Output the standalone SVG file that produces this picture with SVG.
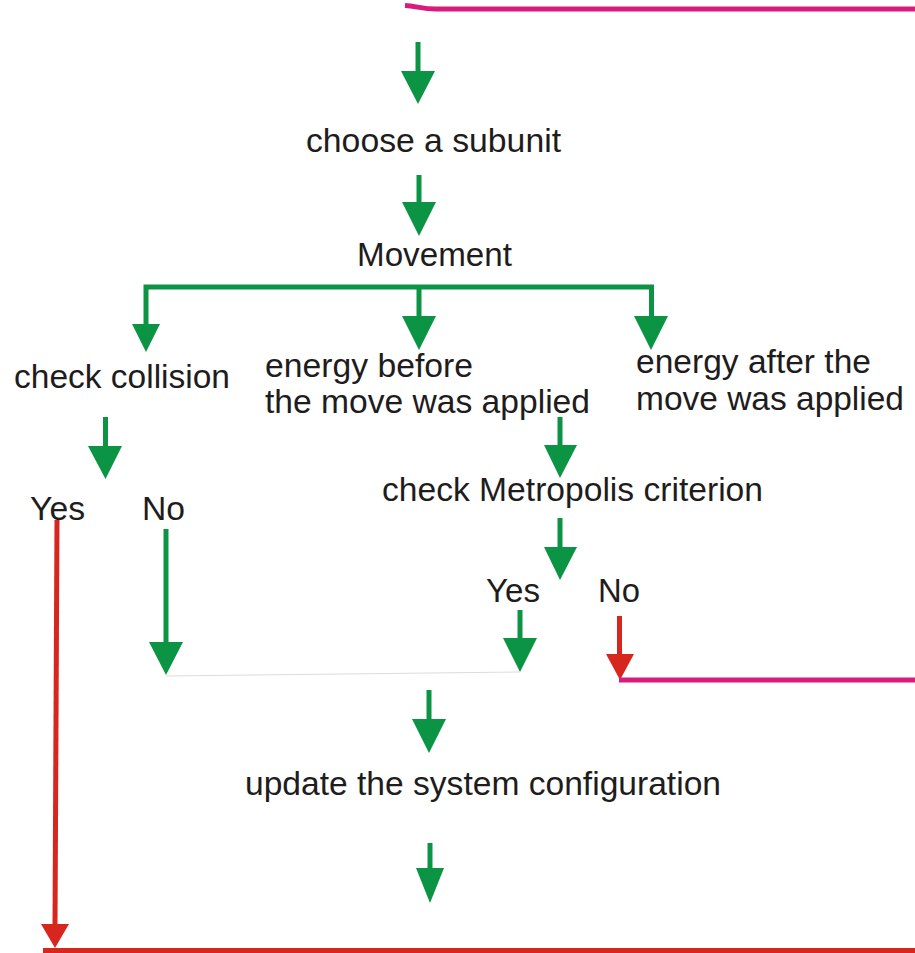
<svg xmlns="http://www.w3.org/2000/svg" width="915" height="953" viewBox="0 0 915 953">
<style>
  .t { font-family: "Liberation Sans", Arial, sans-serif; font-size: 33px; fill: #1e1c1c; }
  .gs { stroke: #0b9444; stroke-width: 5; fill: none; }
  .gh { fill: #0b9444; }
  .rs { stroke: #d7261e; stroke-width: 5; fill: none; }
  .rh { fill: #d7261e; }
  .ms { stroke: #d81b7c; stroke-width: 5; fill: none; }
</style>
<rect width="915" height="953" fill="#ffffff"/>
<g id="connectors">
  <path class="ms" d="M405,5.5 C416,6 422,9 436,9 H915" stroke-width="4.5"/>
  <line class="gs" x1="418" y1="42" x2="418" y2="72"/>
  <polygon class="gh" points="401,71 435,71 418,104"/>
  <line class="gs" x1="419" y1="175" x2="419" y2="203"/>
  <polygon class="gh" points="402,202 436,202 419,236"/>
  <path class="gs" d="M146,325 V287 H651.5 V318"/>
  <line class="gs" x1="419" y1="287" x2="419" y2="318"/>
  <polygon class="gh" points="132,324 160,324 146,352"/>
  <polygon class="gh" points="402,316 436,316 419,350"/>
  <polygon class="gh" points="634,316 668,316 651,350"/>
  <line class="gs" x1="105.5" y1="417" x2="105.5" y2="447"/>
  <polygon class="gh" points="88,446 122,446 105.5,479"/>
  <line class="gs" x1="166" y1="529" x2="166" y2="643"/>
  <polygon class="gh" points="149,642 183,642 166,675"/>
  <line class="gs" x1="560" y1="417" x2="560" y2="446"/>
  <polygon class="gh" points="544,445 577,445 560,478"/>
  <line class="gs" x1="560" y1="518" x2="560" y2="548"/>
  <polygon class="gh" points="544,547 577,547 560,580"/>
  <line class="gs" x1="520" y1="610" x2="520" y2="639"/>
  <polygon class="gh" points="503,638 537,638 520,672"/>
  <line x1="166" y1="676" x2="520" y2="672" stroke="#dcdcdc" stroke-width="1"/>
  <line class="rs" x1="619.5" y1="616" x2="619.5" y2="655"/>
  <polygon class="rh" points="606,654 634,654 620,680"/>
  <path class="ms" d="M619,680 H915" stroke-width="5.5"/>
  <line class="gs" x1="429" y1="690" x2="429" y2="720"/>
  <polygon class="gh" points="412,719 446,719 429,753"/>
  <line class="gs" x1="430" y1="843" x2="430" y2="869"/>
  <polygon class="gh" points="416,868 444,868 430,903"/>
  <line class="rs" x1="57" y1="520" x2="55" y2="925"/>
  <polygon class="rh" points="41,924 69,924 55,948"/>
  <line class="rs" x1="43" y1="950.5" x2="915" y2="950.5"/>
</g>
<g id="choose"><text class="t" x="306" y="152" textLength="255" lengthAdjust="spacingAndGlyphs">choose a subunit</text></g>
<g id="movement"><text class="t" x="357" y="266" textLength="155" lengthAdjust="spacingAndGlyphs">Movement</text></g>
<g id="collision"><text class="t" x="14" y="388" textLength="216" lengthAdjust="spacingAndGlyphs">check collision</text></g>
<g id="energy-before">
  <text class="t" x="265" y="377" textLength="208" lengthAdjust="spacingAndGlyphs">energy before</text>
  <text class="t" x="265" y="413" textLength="325" lengthAdjust="spacingAndGlyphs">the move was applied</text>
</g>
<g id="energy-after">
  <text class="t" x="636" y="373" textLength="235" lengthAdjust="spacingAndGlyphs">energy after the</text>
  <text class="t" x="636" y="410" textLength="268" lengthAdjust="spacingAndGlyphs">move was applied</text>
</g>
<g id="metropolis"><text class="t" x="382" y="501" textLength="381" lengthAdjust="spacingAndGlyphs">check Metropolis criterion</text></g>
<g id="collision-yes"><text class="t" x="30" y="520" textLength="55" lengthAdjust="spacingAndGlyphs">Yes</text></g>
<g id="collision-no"><text class="t" x="142" y="520" textLength="43" lengthAdjust="spacingAndGlyphs">No</text></g>
<g id="metropolis-yes"><text class="t" x="486" y="602" textLength="54" lengthAdjust="spacingAndGlyphs">Yes</text></g>
<g id="metropolis-no"><text class="t" x="598" y="602" textLength="42" lengthAdjust="spacingAndGlyphs">No</text></g>
<g id="update"><text class="t" x="245" y="795" textLength="476" lengthAdjust="spacingAndGlyphs">update the system configuration</text></g>
</svg>
